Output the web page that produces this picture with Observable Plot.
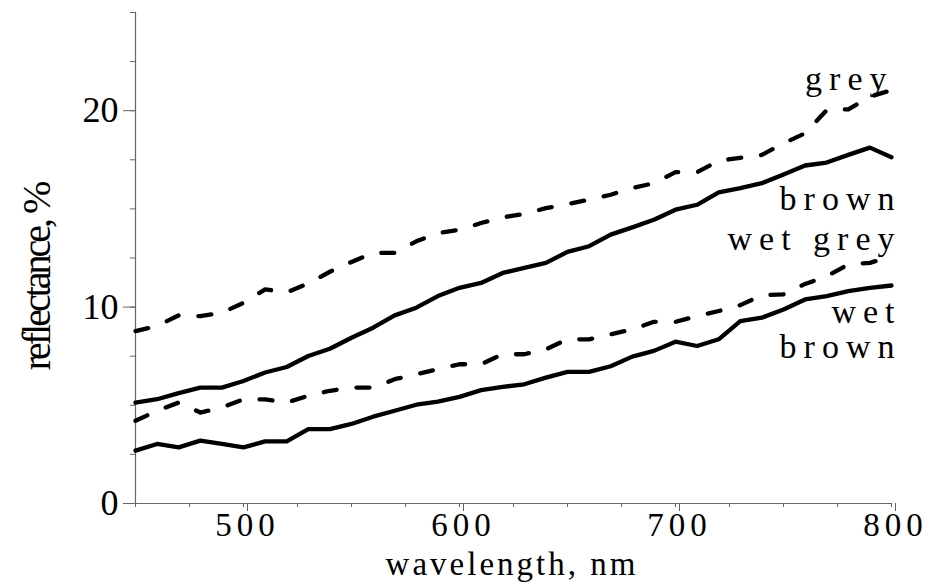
<!DOCTYPE html>
<html>
<head>
<meta charset="utf-8">
<script src="https://cdn.jsdelivr.net/npm/d3@7"></script>
<script src="https://cdn.jsdelivr.net/npm/@observablehq/plot@0.6"></script>
<style>
  html, body { margin: 0; padding: 0; background: #fff; }
  #chart { width: 931px; height: 584px; }
  svg { font-family: "Liberation Serif", "DejaVu Serif", serif; }
</style>
</head>
<body>
<div id="chart"></div>
<script>
const wavelength = [450,460,470,480,490,500,510,520,530,540,550,560,570,580,590,600,610,620,630,640,650,660,670,680,690,700,710,720,730,740,750,760,770,780,790,800];

const grey = [8.78,9.04,9.58,9.54,9.71,10.22,10.9,10.75,11.2,11.8,12.3,12.76,12.76,13.35,13.77,13.94,14.28,14.57,14.74,15.04,15.24,15.47,15.72,16.06,16.31,16.87,16.87,17.45,17.6,17.75,18.34,18.85,20.03,20.07,20.71,21.05];
const brown = [5.14,5.31,5.62,5.9,5.9,6.24,6.67,6.95,7.51,7.88,8.44,8.95,9.58,9.97,10.56,10.98,11.23,11.74,12.0,12.25,12.81,13.1,13.69,14.06,14.45,14.96,15.21,15.84,16.06,16.31,16.75,17.21,17.36,17.75,18.12,17.63];
const wetGrey = [4.21,4.72,5.14,4.63,4.89,5.3,5.3,5.14,5.48,5.74,5.9,5.9,6.33,6.58,6.84,7.09,7.09,7.6,7.6,7.85,8.36,8.36,8.61,8.87,9.25,9.25,9.54,9.8,10.1,10.6,10.65,11.18,11.57,12.17,12.25,12.59];
const wetBrown = [2.69,3.03,2.86,3.2,3.03,2.86,3.16,3.16,3.79,3.79,4.05,4.42,4.72,5.03,5.19,5.43,5.77,5.94,6.07,6.41,6.7,6.7,6.99,7.48,7.77,8.24,8.02,8.36,9.29,9.46,9.88,10.39,10.56,10.81,10.98,11.1];

const seriesNames = ["grey", "brown", "wet grey", "wet brown"];
const yMajorTicks = [0, 10, 20];
const yMinorTicks = [0, 2.5, 5, 7.5, 10, 12.5, 15, 17.5, 20, 22.5, 25];
const xMajorTicks = [500, 600, 700, 800];
const xMinorTicks = [450, 475, 500, 525, 550, 575, 600, 625, 650, 675, 700, 725, 750, 775, 800];

const toRows = (vals) => wavelength.map((w, i) => ({w, v: vals[i]}));
const rows = {
  "grey": toRows(grey),
  "brown": toRows(brown),
  "wet grey": toRows(wetGrey),
  "wet brown": toRows(wetBrown)
};

const axisColor = "#666";
const lineBase = {x: "w", y: "v", stroke: "black", strokeWidth: 4.3, strokeLinejoin: "round", strokeLinecap: "round"};
const dash = "13,20";
const labelStyle = {textAnchor: "end", fontSize: 34, fill: "black", fontFamily: "Liberation Serif", stroke: "none"};

const chart = Plot.plot({
  width: 931,
  height: 584,
  marginLeft: 135,
  marginRight: 40,
  marginTop: 12,
  marginBottom: 81,
  style: {fontFamily: "Liberation Serif", color: "black", background: "white", overflow: "visible"},
  x: {domain: [450, 800]},
  y: {domain: [0, 25]},
  marks: [
    // minor ticks
    Plot.axisY(yMinorTicks, {tickSize: 5, tickFormat: () => "", stroke: axisColor, label: null}),
    Plot.axisX(xMinorTicks, {tickSize: 4, tickFormat: () => "", stroke: axisColor, label: null}),
    // major ticks + labels
    Plot.axisY(yMajorTicks, {tickSize: 12, tickPadding: 5, fontSize: 36, stroke: axisColor, label: null, tickFormat: d => String(d)}),
    Plot.axisX(xMajorTicks, {tickSize: 8, tickPadding: 1, fontSize: 33, dx: 4, stroke: axisColor, label: null, tickFormat: d => String(d)}),
    // axis lines
    Plot.ruleX([450], {y1: 0, y2: 25, stroke: axisColor, strokeWidth: 1.2}),
    Plot.ruleY([0], {x1: 450, x2: 800, stroke: axisColor, strokeWidth: 1.2}),
    // series
    Plot.line(rows["grey"], {...lineBase, strokeDasharray: dash}),
    Plot.line(rows["brown"], {...lineBase}),
    Plot.line(rows["wet grey"], {...lineBase, strokeDasharray: dash}),
    Plot.line(rows["wet brown"], {...lineBase}),
    // series labels
    Plot.text([seriesNames[0]], {...labelStyle, x: 800, y: 21.6, dx: 2}),
    Plot.text([seriesNames[1]], {...labelStyle, x: 800, y: 15.5, dx: 10}),
    Plot.text([seriesNames[2]], {...labelStyle, x: 800, y: 13.45, dx: 10}),
    Plot.text(["wet"], {...labelStyle, x: 800, y: 9.75, dx: 10}),
    Plot.text(["brown"], {...labelStyle, x: 800, y: 7.95, dx: 10})
  ]
});

const svg = d3.select(chart);
// letter spacing to match the wide-set serif text
svg.selectAll("g[aria-label='x-axis tick label'] text").attr("letter-spacing", 5);
svg.selectAll("g[aria-label='text'] text").attr("letter-spacing", 7);

// axis titles
svg.append("text")
  .attr("x", 512).attr("y", 575)
  .attr("text-anchor", "middle")
  .attr("font-size", 33)
  .attr("letter-spacing", 3)
  .attr("fill", "black")
  .text("wavelength, nm");
svg.append("text")
  .attr("transform", "translate(50,277) rotate(-90)")
  .attr("text-anchor", "middle")
  .attr("font-size", 40)
  .attr("letter-spacing", -3)
  .attr("fill", "black")
  .text("reflectance, %");

document.getElementById("chart").appendChild(chart);
</script>
</body>
</html>
